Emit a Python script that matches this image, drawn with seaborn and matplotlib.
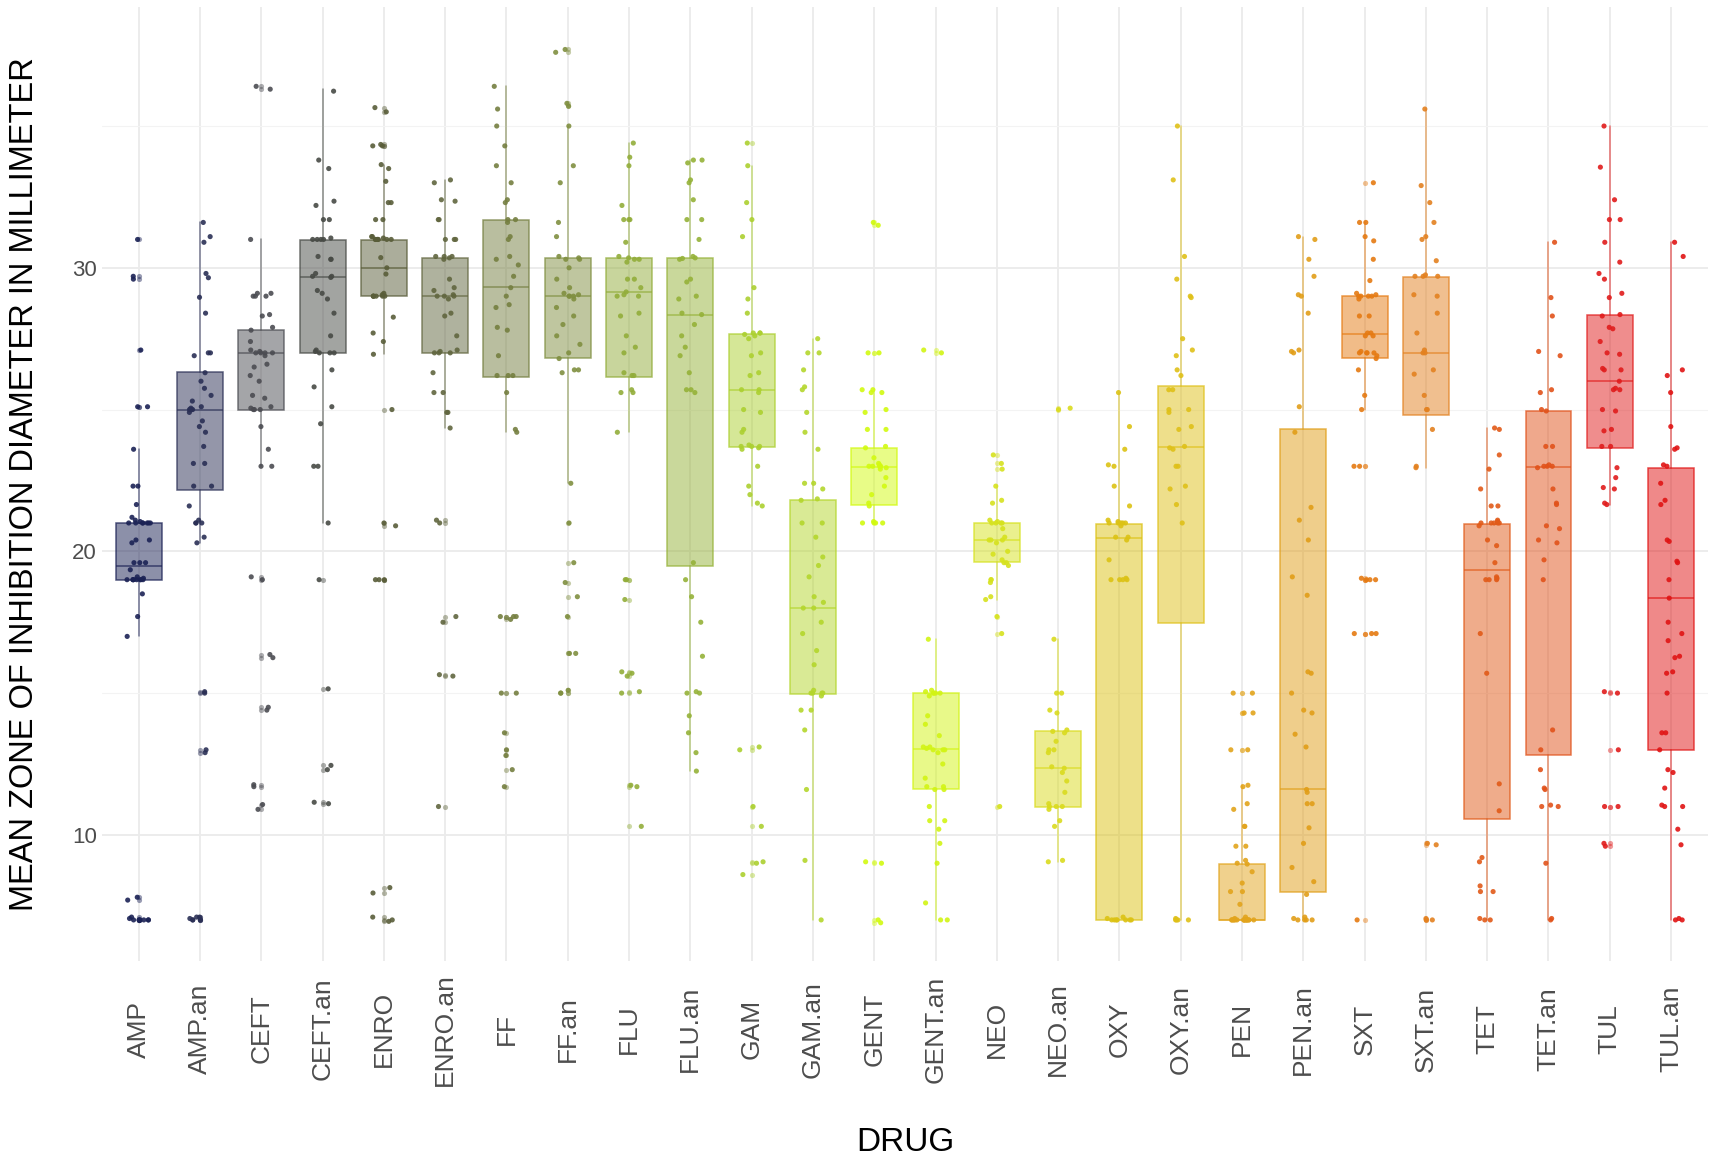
import numpy as np
import pandas as pd
import matplotlib
matplotlib.use('Agg')
import matplotlib.pyplot as plt
from matplotlib.colors import to_rgba
import seaborn as sns

# %%
drugs = ['AMP', 'AMP.an', 'CEFT', 'CEFT.an', 'ENRO', 'ENRO.an', 'FF', 'FF.an',
         'FLU', 'FLU.an', 'GAM', 'GAM.an', 'GENT', 'GENT.an', 'NEO', 'NEO.an',
         'OXY', 'OXY.an', 'PEN', 'PEN.an', 'SXT', 'SXT.an', 'TET', 'TET.an',
         'TUL', 'TUL.an']

colors = ['#1b2255', '#2a2f55', '#4b4c52', '#474a45', '#595d39', '#61663f',
          '#757f40', '#808f40', '#92ad3a', '#95b238', '#acd030', '#b4d62c',
          '#d2fa10', '#d2f414', '#d6e21e', '#dadb1e', '#dcc214', '#dfc018',
          '#e2a41c', '#e19e18', '#e57a12', '#e38120', '#e15a18', '#e1521a',
          '#e01c1c', '#e01414']

# box statistics
q1 = [19.0, 22.15, 25.0, 27.0, 29.0, 26.98, 26.16, 26.82, 26.16, 19.5, 23.68, 14.98, 21.65,
      11.63, 19.63, 10.97, 7.0, 17.48, 7.0, 7.98, 26.82, 24.81, 10.56, 12.83, 23.64, 12.98]
med = [19.5, 25.0, 27.0, 29.66, 30.0, 28.99, 29.34, 29.0, 29.15, 28.35, 25.68, 18.0, 22.98,
       13.04, 20.4, 12.35, 20.48, 23.68, 7.0, 11.63, 27.67, 26.98, 19.34, 22.98, 26.0, 18.35]
q3 = [21.0, 26.33, 27.82, 30.97, 30.97, 30.33, 31.67, 30.33, 30.33, 30.33, 27.67, 21.82, 23.64,
      15.0, 21.0, 13.66, 20.97, 25.83, 8.97, 24.3, 28.99, 29.67, 20.97, 24.96, 28.33, 22.95]
whis_lo = [17.0, 20.3, 23.0, 21.0, 26.95, 24.35, 24.2, 22.4, 24.2, 12.25, 21.6, 7.0, 21.0,
           7.0, 18.3, 9.05, 7.0, 7.0, 7.0, 7.0, 25.0, 22.95, 7.0, 7.0, 21.65, 7.0]
whis_hi = [23.6, 31.6, 31.0, 36.3, 33.64, 33.1, 36.4, 35.0, 34.4, 33.8, 33.6, 27.5, 25.7,
           16.9, 22.3, 16.9, 25.6, 35.0, 11.75, 31.1, 31.6, 35.6, 24.35, 30.9, 35.0, 30.9]

# zone diameters per isolate (mm)
amp = [7.0, 7.0, 7.0, 7.0, 7.0, 7.0, 7.05, 7.1, 7.7, 7.8, 17.0, 17.7, 18.5, 19.0, 19.0, 19.0,
       19.0, 19.0, 19.0, 19.0, 19.0, 19.05, 19.1, 19.35, 19.6, 19.6, 19.6, 20.3, 20.4, 20.4,
       21.0, 21.0, 21.0, 21.0, 21.0, 21.0, 21.0, 21.05, 21.1, 21.2, 21.65, 22.3, 22.3, 23.6,
       25.1, 25.1, 27.1, 29.6, 29.7, 31.0]
amp_an = [7.0, 7.0, 7.0, 7.05, 7.1, 7.1, 12.9, 13.0, 15.0, 15.05, 20.3, 20.5, 21.0, 21.0,
          21.0, 21.1, 21.6, 22.3, 22.3, 23.1, 23.1, 23.7, 24.2, 24.4, 24.6, 24.9, 25.0, 25.0,
          25.0, 25.0, 25.05, 25.1, 25.3, 25.5, 25.75, 26.0, 26.3, 26.9, 27.0, 27.0, 28.4,
          28.96, 29.65, 29.8, 30.9, 31.1, 31.6]
ceft = [10.9, 11.07, 11.7, 11.77, 14.4, 14.5, 16.25, 16.36, 19.0, 19.1, 23.0, 23.0, 23.6,
        24.4, 25.0, 25.0, 25.0, 25.05, 25.1, 25.4, 25.5, 26.0, 26.2, 26.5, 26.6, 26.9, 27.0,
        27.0, 27.0, 27.0, 27.05, 27.1, 27.4, 27.8, 27.9, 28.3, 28.35, 29.0, 29.0, 29.0, 29.1,
        29.1, 31.0, 36.3, 36.4]
ceft_an = [11.1, 11.15, 12.3, 12.45, 15.15, 19.0, 21.0, 23.0, 23.0, 24.5, 25.1, 25.8, 26.4,
           27.0, 27.0, 27.0, 27.05, 27.1, 27.6, 28.4, 28.9, 29.1, 29.2, 29.66, 29.7, 29.7,
           29.8, 30.3, 30.3, 30.4, 31.0, 31.0, 31.0, 31.0, 31.05, 31.7, 31.7, 32.2, 32.35,
           33.5, 33.8, 36.23]
enro = [6.95, 7.0, 7.1, 7.95, 8.14, 19.0, 19.0, 19.0, 20.9, 21.0, 25.0, 26.95, 27.4, 27.7,
        28.26, 29.0, 29.0, 29.0, 29.0, 29.0, 29.0, 29.05, 29.1, 29.78, 30.0, 30.36, 31.0, 31.0,
        31.0, 31.0, 31.0, 31.0, 31.0, 31.05, 31.1, 31.1, 31.7, 31.7, 32.3, 32.3, 33.05, 33.5,
        33.64, 34.3, 34.3, 34.35, 35.5, 35.65]
enro_an = [11.0, 15.6, 15.65, 17.5, 17.7, 21.0, 21.1, 24.35, 24.9, 24.9, 25.6, 25.6, 26.3,
           27.0, 27.0, 27.0, 27.05, 27.1, 27.6, 28.3, 28.4, 28.9, 29.0, 29.0, 29.0, 29.05,
           29.2, 29.3, 29.6, 30.3, 30.35, 30.4, 30.4, 30.4, 31.0, 31.0, 31.0, 31.7, 31.7,
           32.35, 32.4, 33.0, 33.1]
ff = [11.7, 12.3, 12.8, 13.0, 13.6, 15.0, 15.0, 17.6, 17.7, 17.7, 17.7, 24.2, 24.3, 25.6,
      26.2, 26.2, 26.2, 26.9, 27.8, 27.9, 28.6, 28.7, 29.0, 29.3, 29.7, 30.1, 30.3, 30.4, 31.0,
      31.1, 31.6, 31.7, 31.7, 32.3, 32.4, 33.0, 33.6, 34.3, 35.0, 35.6, 36.4]
ff_an = [15.0, 15.0, 15.1, 16.4, 16.4, 17.7, 18.4, 18.9, 19.6, 21.0, 22.4, 26.3, 26.4, 26.4,
         26.8, 27.0, 27.3, 27.6, 28.0, 28.3, 28.6, 28.9, 29.0, 29.0, 29.0, 29.05, 29.1, 29.3,
         29.6, 30.0, 30.3, 30.3, 30.35, 30.4, 31.1, 31.6, 33.0, 33.6, 35.0, 35.7, 35.8, 37.6,
         37.7]
flu = [10.3, 11.7, 11.75, 15.0, 15.05, 15.6, 15.7, 15.75, 18.3, 19.0, 19.0, 24.2, 25.6, 25.6,
       25.7, 26.2, 26.2, 26.3, 27.0, 27.2, 27.6, 28.3, 28.4, 29.0, 29.0, 29.05, 29.15, 29.3,
       29.6, 29.6, 30.2, 30.3, 30.3, 30.35, 30.4, 30.9, 31.7, 31.7, 31.7, 32.2, 33.6, 33.9, 34.4]
flu_an = [12.25, 12.9, 13.6, 14.2, 15.0, 15.0, 15.05, 16.3, 17.5, 18.4, 19.0, 19.6, 25.6, 25.7,
          25.7, 26.3, 26.9, 27.2, 27.6, 28.0, 28.35, 28.4, 28.9, 29.0, 29.5, 29.6, 30.3, 30.33,
          30.35, 30.4, 31.0, 31.7, 31.7, 32.4, 33.0, 33.1, 33.7, 33.8, 33.8]
gam = [8.6, 9.0, 9.05, 10.3, 11.0, 13.0, 13.1, 21.6, 21.7, 22.0, 22.3, 23.0, 23.6, 23.65, 23.7,
       23.7, 23.7, 23.75, 24.2, 24.3, 24.9, 25.0, 25.6, 25.7, 25.7, 26.2, 26.3, 26.9, 27.0,
       27.5, 27.6, 27.65, 27.7, 27.7, 27.7, 28.4, 28.9, 29.3, 31.1, 31.7, 32.3, 33.6, 34.4]
gam_an = [7.0, 9.1, 11.6, 13.7, 14.4, 14.4, 14.9, 15.0, 15.0, 15.0, 15.0, 15.1, 16.0, 16.5,
          17.1, 17.5, 18.0, 18.0, 18.2, 18.4, 19.1, 19.5, 19.8, 20.5, 21.0, 21.0, 21.8, 21.85,
          22.2, 22.4, 22.4, 23.6, 24.2, 24.9, 25.7, 25.8, 26.4, 27.0, 27.0, 27.5]
gent = [6.9, 7.0, 9.0, 9.05, 21.0, 21.0, 21.0, 21.0, 21.05, 21.6, 21.7, 22.0, 22.3, 22.6,
        22.9, 22.95, 23.0, 23.0, 23.0, 23.0, 23.05, 23.1, 23.3, 23.65, 23.7, 24.3, 24.3, 24.9,
        25.0, 25.6, 25.6, 25.7, 25.7, 27.0, 27.0, 31.5, 31.6]
gent_an = [7.0, 7.0, 7.6, 9.0, 9.7, 10.2, 10.5, 10.5, 11.0, 11.6, 11.6, 11.7, 11.7, 12.0, 12.5,
           12.9, 13.0, 13.0, 13.0, 13.05, 13.1, 13.1, 13.5, 13.9, 14.2, 14.9, 15.0, 15.0, 15.0,
           15.0, 15.05, 15.1, 16.9, 27.0, 27.1]
neo = [11.0, 17.1, 17.7, 18.3, 18.4, 18.9, 19.0, 19.0, 19.5, 19.6, 19.6, 19.7, 19.9, 20.0,
       20.3, 20.4, 20.4, 20.4, 20.5, 20.8, 21.0, 21.0, 21.0, 21.0, 21.05, 21.1, 21.7, 21.8,
       22.3, 22.9, 23.1, 23.4]
neo_an = [9.05, 9.1, 10.3, 10.5, 10.9, 11.0, 11.0, 11.0, 11.1, 11.5, 11.9, 12.2, 12.35, 12.4,
          12.9, 13.0, 13.0, 13.3, 13.6, 13.65, 13.7, 14.3, 14.4, 15.0, 15.0, 16.9, 25.0, 25.05]
oxy = [7.0, 7.0, 7.0, 7.0, 7.0, 7.0, 7.0, 7.05, 7.1, 19.0, 19.0, 19.0, 19.0, 19.05, 19.7,
       20.4, 20.5, 20.5, 20.9, 21.0, 21.0, 21.0, 21.0, 21.0, 21.05, 21.1, 21.6, 22.3, 23.0,
       23.05, 23.6, 24.4, 25.6]
oxy_an = [7.0, 7.0, 7.0, 7.0, 7.05, 21.0, 21.65, 22.2, 22.3, 23.0, 23.0, 23.6, 23.65, 23.7,
          24.3, 24.4, 24.9, 25.0, 25.0, 25.7, 25.7, 26.2, 26.4, 26.9, 27.1, 27.5, 28.95, 29.0,
          29.6, 30.4, 33.1, 35.0]
pen = [7.0, 7.0, 7.0, 7.0, 7.0, 7.0, 7.0, 7.0, 7.0, 7.0, 7.0, 7.0, 7.0, 7.0, 7.0, 7.0, 7.0,
       7.05, 7.1, 7.55, 8.0, 8.0, 8.3, 8.7, 8.97, 9.0, 9.1, 9.6, 9.6, 10.3, 10.3, 10.9, 11.1,
       11.7, 11.75, 13.0, 13.0, 14.3, 14.3, 15.0, 15.0]
pen_an = [7.0, 7.0, 7.0, 7.0, 7.05, 7.1, 7.9, 8.35, 8.85, 9.7, 10.25, 11.1, 11.1, 11.5, 11.6,
          13.1, 13.55, 14.3, 14.4, 15.0, 15.7, 15.75, 18.45, 19.1, 20.4, 21.1, 21.55, 24.2,
          25.1, 27.0, 27.05, 27.1, 28.4, 29.0, 29.05, 29.7, 30.3, 31.0, 31.1]
sxt = [7.0, 17.1, 17.1, 17.1, 19.0, 19.0, 19.0, 19.05, 23.0, 23.0, 25.0, 25.5, 26.4, 26.8,
       26.9, 27.0, 27.0, 27.0, 27.0, 27.05, 27.6, 27.6, 27.7, 27.7, 28.3, 28.3, 28.9, 29.0, 29.0,
       29.0, 29.0, 29.05, 29.1, 29.55, 30.3, 30.95, 31.1, 31.6, 31.6, 33.0]
sxt_an = [7.0, 7.0, 7.05, 9.65, 9.7, 22.95, 23.0, 24.3, 25.0, 25.0, 25.5, 26.25, 26.4, 27.0,
          27.0, 27.1, 27.7, 28.4, 29.0, 29.05, 29.7, 29.7, 29.7, 29.75, 30.25, 31.0, 31.1, 31.6,
          32.3, 32.9, 35.6]
tet = [7.0, 7.0, 7.05, 8.0, 8.0, 8.2, 9.05, 9.2, 10.85, 11.8, 15.7, 17.1, 19.0, 19.0, 19.0,
       19.05, 19.1, 19.6, 20.2, 20.4, 20.9, 21.0, 21.0, 21.0, 21.0, 21.0, 21.05, 21.1, 21.6,
       21.6, 22.2, 22.9, 23.4, 24.3, 24.35]
tet_an = [7.0, 7.05, 9.0, 11.0, 11.0, 11.05, 11.6, 11.65, 12.3, 13.0, 13.7, 19.0, 19.7, 20.3,
          20.4, 20.8, 20.9, 21.65, 21.7, 22.2, 22.95, 23.0, 23.0, 23.0, 23.05, 23.7, 23.7, 24.95,
          25.0, 25.6, 25.7, 26.9, 27.05, 28.3, 28.95, 30.9]
tul = [9.6, 9.7, 11.0, 11.0, 13.0, 15.0, 15.05, 21.65, 21.7, 22.2, 22.25, 22.6, 22.95, 23.7,
       23.7, 24.25, 24.3, 24.95, 25.0, 25.7, 25.7, 25.75, 26.0, 26.4, 26.4, 26.45, 26.95, 27.0,
       27.4, 27.85, 27.9, 28.3, 28.35, 28.95, 29.1, 29.6, 29.8, 30.2, 30.9, 31.7, 31.7, 32.4,
       33.55, 35.0]
tul_an = [7.0, 7.0, 7.05, 9.65, 10.2, 11.0, 11.0, 11.05, 11.65, 12.2, 12.3, 13.0, 13.6, 13.6,
          15.0, 15.7, 15.75, 16.25, 16.3, 16.85, 17.1, 17.5, 18.35, 19.0, 19.6, 19.65, 20.35,
          20.4, 21.65, 21.8, 22.4, 23.0, 23.05, 23.6, 23.65, 24.4, 25.6, 26.2, 26.4, 30.4, 30.9]

zones = [amp, amp_an, ceft, ceft_an, enro, enro_an, ff, ff_an, flu, flu_an, gam, gam_an,
         gent, gent_an, neo, neo_an, oxy, oxy_an, pen, pen_an, sxt, sxt_an, tet, tet_an,
         tul, tul_an]

df = pd.DataFrame({'DRUG': np.repeat(drugs, [len(z) for z in zones]),
                   'ZONE': np.concatenate(zones)})

# %%
sns.set_theme(style='white')
plt.rcParams['font.family'] = ['Liberation Sans', 'DejaVu Sans']

fig = plt.figure(figsize=(17.13, 11.59), dpi=100)
ax = fig.add_axes([0.0595, 0.1708, 0.9375, 0.8232])

stats = []
for i, d in enumerate(drugs):
    z = np.array(zones[i])
    fl = z[(z < whis_lo[i]) | (z > whis_hi[i])]
    stats.append(dict(med=med[i], q1=q1[i], q3=q3[i], whislo=whis_lo[i],
                      whishi=whis_hi[i], fliers=fl))

bp = ax.bxp(stats, positions=range(len(drugs)), widths=0.75, patch_artist=True,
            showcaps=False, manage_ticks=False, zorder=2)
for i, c in enumerate(colors):
    line_c = to_rgba(c, 0.75)
    bp['boxes'][i].set_facecolor(to_rgba(c, 0.5))
    bp['boxes'][i].set_edgecolor(line_c)
    bp['boxes'][i].set_linewidth(1.1)
    bp['medians'][i].set_color(line_c)
    bp['medians'][i].set_linewidth(1.1)
    for w in bp['whiskers'][2 * i:2 * i + 2]:
        w.set_color(to_rgba(c, 0.6))
        w.set_linewidth(1.1)
    bp['fliers'][i].set(marker='o', markersize=3.7, markeredgewidth=0,
                        markerfacecolor=to_rgba(c, 0.45))

np.random.seed(3)
sns.stripplot(data=df, x='DRUG', y='ZONE', hue='DRUG', order=drugs, hue_order=drugs,
              palette=colors, jitter=0.2, size=3.7, alpha=0.9, linewidth=0,
              legend=False, ax=ax, zorder=3)

# grid like ggplot's theme_minimal
ax.set_xlim(-0.6, len(drugs) - 0.4)
ax.set_ylim(5.55, 39.2)
ax.set_yticks([10, 20, 30])
ax.set_yticks([15, 25, 35], minor=True)
ax.set_xticks(range(len(drugs)))
ax.grid(True, which='major', axis='both', color='#ebebeb', linewidth=1.3, zorder=0)
ax.grid(True, which='minor', axis='y', color='#f3f3f3', linewidth=0.8, zorder=0)
ax.set_axisbelow(True)
for s in ax.spines.values():
    s.set_visible(False)

ax.tick_params(axis='both', which='both', length=0)
ax.tick_params(axis='y', labelsize=16, labelcolor='#4d4d4d', pad=3.5)
ax.tick_params(axis='x', labelsize=19, labelcolor='#4d4d4d', pad=49)
ax.set_xticklabels(drugs, rotation=90, va='center', ha='center')

ax.set_xlabel('DRUG', fontsize=24, color='black', va='center')
ax.xaxis.set_label_coords(0.5, -0.19)
ax.set_ylabel('MEAN ZONE OF INHIBITION DIAMETER IN MILLIMETER', fontsize=23.5,
              color='black', va='center')
ax.yaxis.set_label_coords(-0.048, 0.5)

plt.savefig('out.png', dpi=100)
